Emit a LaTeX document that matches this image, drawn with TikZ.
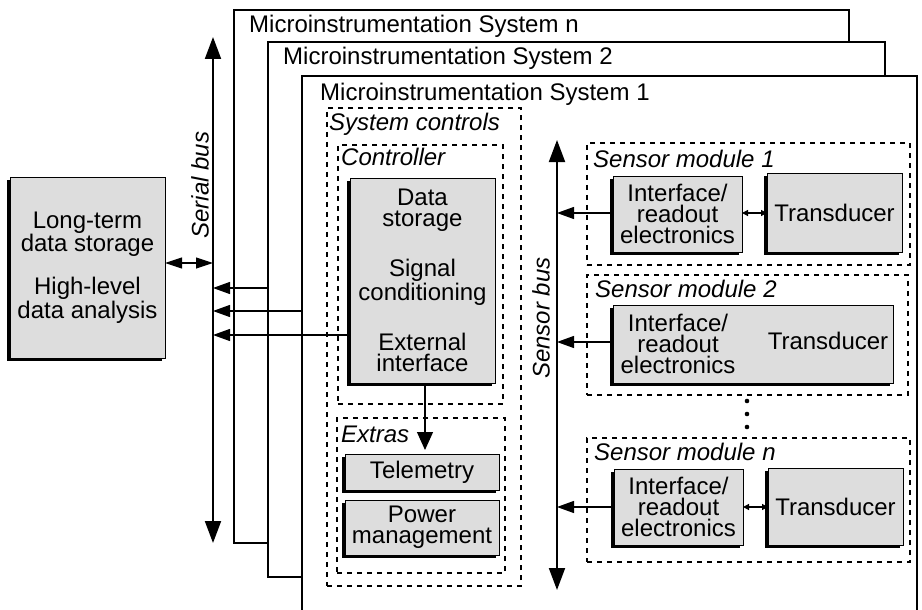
\documentclass[tikz,border=0pt]{standalone}
\usepackage{fontspec}
\setmainfont{Liberation Sans}
\usetikzlibrary{arrows.meta,shadows,fit}
\begin{document}
\begin{tikzpicture}[x=1pt,y=-1pt,
  frame/.style={draw, line width=1.4pt, fill=white, inner sep=0pt, outer sep=0pt},
  dbox/.style={draw, dash pattern=on 5pt off 5pt, line width=1.1pt, inner sep=0pt, outer sep=0pt},
  gbox/.style={draw, line width=0.9pt, fill=gray!27, inner sep=0pt, outer sep=0pt, align=center,
    font=\fontsize{24}{21}\selectfont,
    general shadow={fill=black, shadow xshift=-3pt, shadow yshift=-3pt}},
  title/.style={font=\fontsize{24}{21}\selectfont, anchor=base west, inner sep=0pt},
  lab/.style={font=\fontsize{24}{21}\selectfont\itshape, anchor=base west, inner sep=0pt},
  txt/.style={font=\fontsize{24}{21}\selectfont, align=center, inner sep=0pt},
  bus/.style={line width=2pt, {Triangle[length=22pt,width=16pt]}-{Triangle[length=22pt,width=16pt]}},
  arr/.style={line width=1.2pt, -{Triangle[length=17pt,width=12pt]}},
  darr/.style={line width=1.2pt, {Triangle[length=17pt,width=11pt]}-{Triangle[length=17pt,width=11pt]}},
  sarr/.style={line width=1.2pt, {Triangle[length=6pt,width=6pt]}-{Triangle[length=6pt,width=6pt]}}]
\useasboundingbox (0,0) rectangle (922,610);
\clip (0,0) rectangle (922,610);

% frames
\node[frame, fit={(234,10)(849,543)}] (sysn) {};
\node[title] (tsysn) at (249,33) {Microinstrumentation System n};
\node[frame, fit={(268,42)(885,577)}] (sys2) {};
\node[title] (tsys2) at (283,65) {Microinstrumentation System 2};
\node[frame, fit={(302,76)(917,630)}] (sys1) {};
\node[title] (tsys1) at (320,100) {Microinstrumentation System 1};

% long-term box
\node[gbox, minimum width=155pt, minimum height=181pt] (lt) at (87.5,267.5)
  {Long-term\\data storage\\[20pt]High-level\\data analysis};

% serial bus
\coordinate (sbt) at (213,37);
\coordinate (sbb) at (213,543);
\draw[bus] (sbb) -- (sbt);
\node[txt, font=\fontsize{24}{21}\selectfont\itshape, rotate=90] (sbl) at (200,185) {Serial bus};

% system controls
\node[dbox, fit={(327,108)(521,586)}] (sc) {};
\node[lab] (tsc) at (329,130) {System controls};
\node[dbox, fit={(338,145)(503,404)}] (cd) {};
\node[lab] (tcd) at (341,165) {Controller};
\node[gbox, minimum width=145pt, minimum height=205pt] (ctrl) at (422.5,280.5)
  {Data\\storage\\[27pt]Signal\\conditioning\\[27pt]External\\interface};
\node[dbox, fit={(337,418)(505,573)}] (ex) {};
\node[lab] (tex) at (341,442) {Extras};
\node[gbox, minimum width=154pt, minimum height=36pt] (telem) at (422,472) {Telemetry};
\node[gbox, minimum width=154pt, minimum height=55pt] (power) at (422,527.5) {Power\\management};

% connectors to serial bus
\draw[darr] (lt.east |- 0,263) -- (sbt |- 0,263);
\draw[arr] (sys2.west |- 0,288) -- (sbt |- 0,288);
\draw[arr] (sys1.west |- 0,311) -- (sbt |- 0,311);
\draw[arr] (ctrl.west |- 0,335) -- (sbt |- 0,335);
\draw[line width=1.2pt, -{Triangle[length=18pt,width=16pt]}] (ctrl.south -| 425,0) -- (425,450);

% sensor bus
\coordinate (snt) at (557,140);
\coordinate (snb) at (557,590);
\draw[bus] (snb) -- (snt);
\node[txt, font=\fontsize{24}{21}\selectfont\itshape, rotate=90] (snl) at (541,318) {Sensor bus};

% sensor module 1
\node[dbox, fit={(587,143)(910,265)}] (m1) {};
\node[lab] (tm1) at (593,167) {Sensor module 1};
\node[gbox, minimum width=129pt, minimum height=76pt] (if1) at (677.5,214) {Interface/\\readout\\electronics};
\node[gbox, minimum width=135pt, minimum height=79pt] (tr1) at (834.5,212.5) {Transducer};
\draw[sarr] (if1.east |- 0,213) -- (tr1.west |- 0,213);
\draw[arr] (if1.west |- 0,213) -- (snt |- 0,213);

% sensor module 2
\node[dbox, fit={(587,275)(908,395)}] (m2) {};
\node[lab] (tm2) at (595,297) {Sensor module 2};
\node[gbox, fit={(613,305)(893,383)}] (b2) {};
\node[txt] (if2) at (678,344) {Interface/\\readout\\electronics};
\node[txt] (tr2) at (828,341) {Transducer};
\draw[arr] (b2.west |- 0,342) -- (snt |- 0,342);

% dots
\fill (747,401) circle (2.3pt) (747,414) circle (2.3pt) (747,427) circle (2.3pt);

% sensor module n
\node[dbox, fit={(587,438)(910,562)}] (mn) {};
\node[lab] (tmn) at (594,460) {Sensor module n};
\node[gbox, minimum width=129pt, minimum height=76pt] (ifn) at (678.5,507) {Interface/\\readout\\electronics};
\node[gbox, minimum width=135pt, minimum height=77pt] (trn) at (835.5,506.5) {Transducer};
\draw[sarr] (ifn.east |- 0,507) -- (trn.west |- 0,507);
\draw[arr] (ifn.west |- 0,507) -- (snt |- 0,507);
\end{tikzpicture}
\end{document}
